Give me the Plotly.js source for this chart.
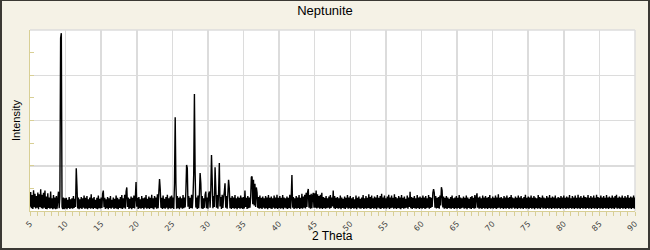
<!DOCTYPE html>
<html>
<head>
<meta charset="utf-8">
<script src="https://cdn.plot.ly/plotly-3.0.1.min.js"></script>
<style>
  html, body { margin: 0; padding: 0; background: #f5f2e6; }
  #wrap { position: relative; width: 650px; height: 250px; }
  #chart { position: absolute; left: 0; top: 0; width: 650px; height: 250px; }
  #frame { position: absolute; left: 0; top: 0; width: 650px; height: 250px; box-sizing: border-box;
           border-style: solid; border-color: #3b3934; border-width: 1px 2px 2px 2px; pointer-events: none; }
</style>
</head>
<body>
<div id="wrap"><div id="chart"></div><div id="frame"></div></div>
<script>
// Powder pattern: start angle, step, and counts (arbitrary intensity units)
const startAngle = 5.0;
const stepAngle = 0.1;

const counts05 = [95,420,60,350,45,460,85,380,55,330, 70,410,40,370,90,480,60,360,50,400,
  75,450,45,320,40,390,65,300,50,430, 60,280,40,350,55,300,40,330,50,260,
  427,60,330,3820,3930,90,45,300,40,280];
const counts10 = [55,290,40,250,70,310,45,260,60,280, 50,330,65,270,90,943,530,55,300,40,
  260,60,310,45,280,75,340,50,290,55, 330,40,260,65,300,50,370,60,280,45,
  310,70,250,50,290,40,340,60,270,55];
const counts15 = [300,65,380,450,85,290,45,260,60,310, 40,280,70,330,50,250,75,300,45,270,
  60,340,50,290,40,260,65,310,55,350, 45,280,75,360,50,430,520,90,300,45,
  270,60,320,40,290,70,340,55,300,640];
const counts20 = [95,290,45,310,60,260,50,330,70,280, 40,300,75,350,50,270,60,320,45,290,
  70,360,55,280,40,330,80,300,50,370, 60,420,707,480,70,290,45,340,60,270,
  50,310,75,360,40,280,60,320,50,340];
const counts25 = [70,300,45,610,2070,610,50,330,60,290, 40,320,75,280,50,350,60,300,80,430,
  1017,950,95,330,45,290,70,360,55,310, 810,2586,850,75,300,45,340,60,380,840,
  610,55,330,45,280,70,350,430,60,300];
const counts30 = [50,380,430,70,450,1237,685,60,330,90, 965,530,70,350,50,420,1060,100,310,45,
  360,70,300,420,612,75,330,50,380,690, 500,60,290,45,330,70,300,50,350,60,
  280,40,320,70,290,50,340,60,300,45];
const counts35 = [310,55,450,90,290,45,330,60,300,75, 300,750,760,150,690,120,600,90,520,410,
  70,310,50,340,60,290,45,320,75,280, 50,330,60,300,40,350,70,290,55,320,
  45,280,75,340,50,300,60,360,45,290];
const counts40 = [70,330,50,290,60,350,40,300,75,280, 55,320,45,290,70,360,50,300,795,75,
  310,45,280,60,330,50,300,70,350,45, 290,60,380,50,320,75,360,55,400,90,
  420,486,75,350,50,380,60,330,400,70];
const counts45 = [390,75,450,55,370,70,330,50,360,60, 400,45,310,70,290,50,330,60,280,75,
  320,50,350,70,300,100,450,60,330,45, 290,70,310,50,280,60,340,40,300,70,
  270,55,320,45,290,75,350,50,300,60];
const counts50 = [330,45,280,70,310,50,260,60,340,40, 290,75,320,55,270,50,300,70,350,45,
  280,60,330,50,290,70,370,55,310,45, 340,70,280,50,320,60,300,40,350,75,
  290,55,330,45,380,70,300,50,340,60];
const counts55 = [280,50,320,70,360,45,300,60,340,75, 290,50,370,60,310,45,280,70,330,55,
  300,40,350,70,290,50,320,60,270,75, 340,50,300,90,427,60,310,45,290,70,
  330,55,280,50,350,70,300,45,320,60];
const counts60 = [290,50,340,70,300,45,330,60,280,75, 350,50,310,70,290,90,400,486,400,75,
  330,55,290,70,310,50,340,120,525,450, 80,320,50,290,60,330,45,300,70,270,
  55,310,50,340,70,280,45,300,60,330];
const counts65 = [50,290,70,350,45,300,60,280,75,320, 50,290,60,340,40,300,70,270,55,310,
  45,330,70,290,50,350,60,300,390,75, 300,50,320,60,280,45,340,70,300,50,
  330,60,290,45,310,70,350,50,280,60];
const counts70 = [320,50,290,70,340,45,300,60,370,75, 290,50,310,70,280,45,330,60,300,50,
  340,70,290,45,310,60,350,50,300,75, 280,50,320,60,290,45,340,70,300,50,
  330,60,280,45,310,70,360,50,290,60];
const counts75 = [320,45,300,70,340,50,290,60,330,40, 300,70,280,50,350,60,310,45,290,75,
  340,50,300,60,280,45,330,70,300,50, 350,60,290,45,320,70,300,50,340,60,
  280,50,310,70,290,45,330,60,300,50];
const counts80 = [340,70,290,45,320,60,300,50,350,70, 280,50,330,60,300,45,340,70,290,50,
  360,60,300,45,330,70,290,50,340,60, 310,45,300,70,350,50,290,60,330,45,
  300,70,340,50,290,60,360,45,310,70];
const counts85 = [290,50,340,60,300,45,330,70,290,50, 350,60,300,45,320,70,290,50,340,60,
  300,45,330,70,360,50,290,60,320,45, 300,70,340,50,290,60,330,45,300,70,
  350,50,290,60,320,45,300,70,340,50];
const counts90 = [300];

const intensity = [].concat(counts05, counts10, counts15, counts20, counts25, counts30, counts35,
  counts40, counts45, counts50, counts55, counts60, counts65, counts70, counts75, counts80, counts85, counts90);
const twoTheta = intensity.map((_, i) => +(startAngle + i * stepAngle).toFixed(2));

const tan = '#d8cf95';
const grid = '#dcdcdc';

const trace = {
  type: 'scatter', mode: 'lines',
  x: twoTheta, y: intensity,
  line: { color: '#000000', width: 1.4, simplify: false },
  hoverinfo: 'skip'
};

const layout = {
  width: 650, height: 250,
  paper_bgcolor: '#f5f2e6', plot_bgcolor: '#ffffff',
  margin: { l: 30, r: 15, t: 30, b: 39, pad: 0 },
  showlegend: false,
  font: { family: 'Liberation Sans, Arial, sans-serif', color: '#000' },
  title: { text: 'Neptunite', font: { size: 13, color: '#000' }, x: 0.5, xref: 'container', xanchor: 'center',
           y: 0.96, yref: 'container', yanchor: 'middle' },
  xaxis: {
    range: [5, 90], tick0: 5, dtick: 5, tickangle: -45,
    showline: true, linecolor: tan, linewidth: 1,
    ticks: 'outside', ticklen: 4, tickcolor: tan, tickwidth: 1,
    showgrid: true, gridcolor: grid, gridwidth: 1.5, zeroline: false,
    tickfont: { family: 'DejaVu Sans, sans-serif', size: 8, color: '#444' },
    minor: { dtick: 1, ticks: 'outside', ticklen: 4, tickcolor: tan, showgrid: false },
    automargin: false, fixedrange: true
  },
  yaxis: {
    range: [0, 4000], dtick: 1000, showticklabels: false,
    showline: true, linecolor: tan, linewidth: 1,
    ticks: 'inside', ticklen: 4, tickcolor: tan,
    showgrid: true, gridcolor: grid, gridwidth: 1.5, zeroline: false,
    minor: { dtick: 500, ticks: 'inside', ticklen: 4, tickcolor: tan, showgrid: false },
    title: { text: 'Intensity', font: { size: 11, color: '#000' }, standoff: 6 },
    automargin: false, fixedrange: true
  },
  annotations: [
    { text: '2 Theta', xref: 'paper', yref: 'paper', x: 0.5, y: -0.138, xanchor: 'center', yanchor: 'middle',
      showarrow: false, font: { size: 12, color: '#000' } }
  ],
  shapes: [
    { type: 'line', xref: 'paper', yref: 'paper', x0: 0, x1: 1, y0: 1, y1: 1, line: { color: grid, width: 1.5 }, layer: 'below' },
    { type: 'line', xref: 'paper', yref: 'paper', x0: 1, x1: 1, y0: 0, y1: 1, line: { color: grid, width: 1.5 }, layer: 'below' }
  ]
};

Plotly.newPlot('chart', [trace], layout, { staticPlot: true, displayModeBar: false });
</script>
</body>
</html>
